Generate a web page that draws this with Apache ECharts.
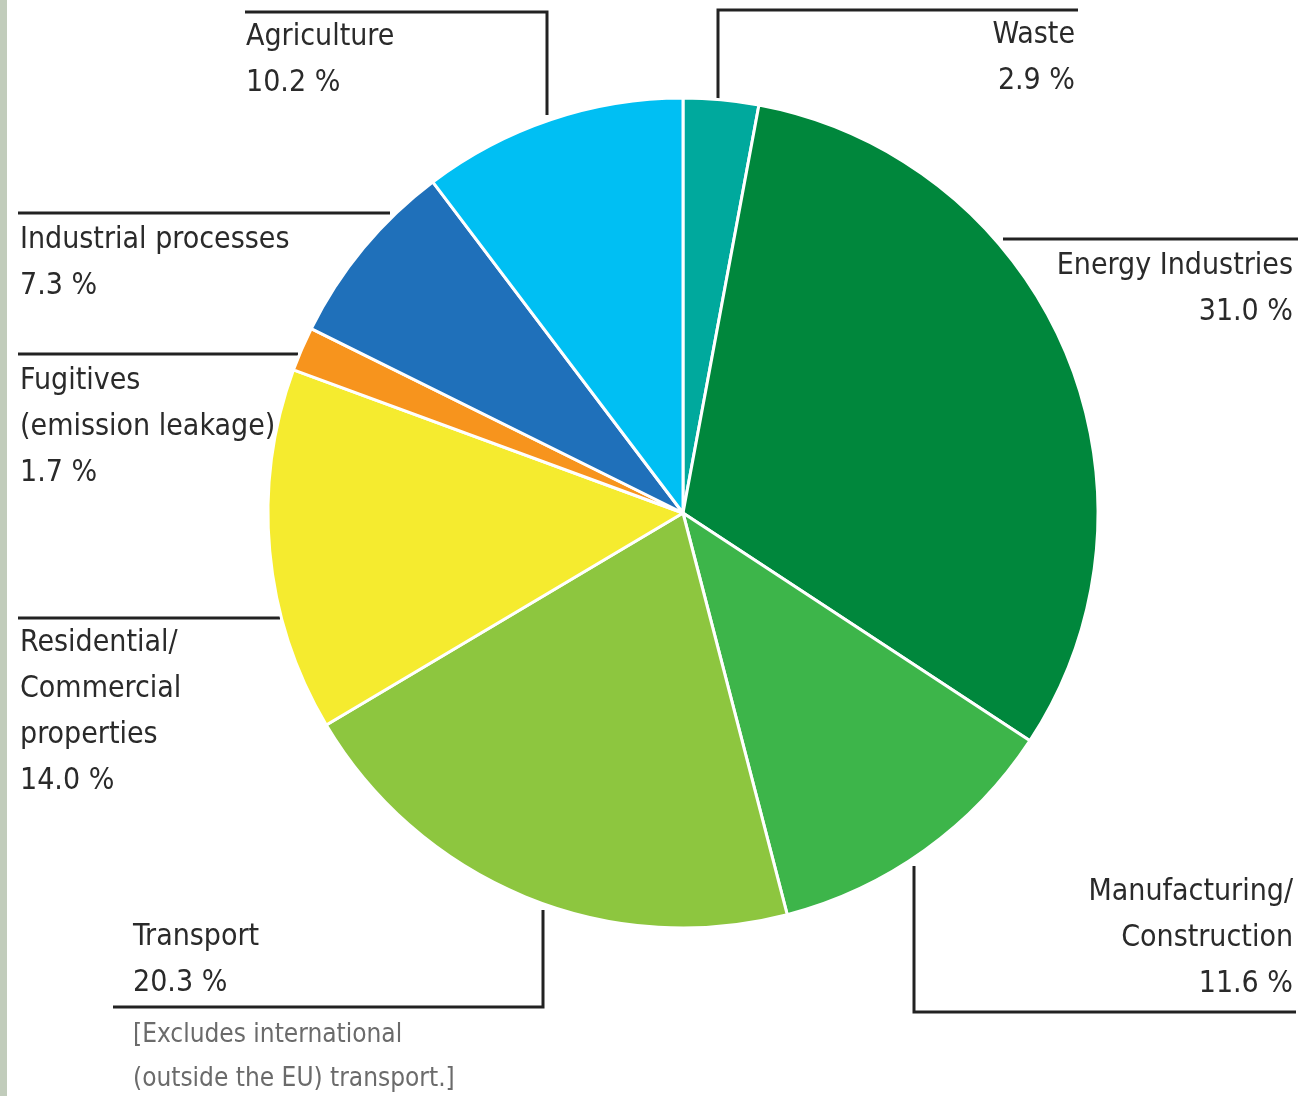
<!DOCTYPE html>
<html>
<head>
<meta charset="utf-8">
<script src="https://cdn.jsdelivr.net/npm/echarts@6/dist/echarts.min.js"></script>
<style>
  html, body { margin: 0; padding: 0; background: #ffffff; }
  #wrap { position: relative; width: 1300px; height: 1096px; }
  #strip { position: absolute; left: 0; top: 0; width: 7px; height: 1096px; background: #c1ccbb; z-index: 2; }
  #chart { position: absolute; left: 0; top: 0; width: 1300px; height: 1096px; }
</style>
</head>
<body>
<div id="wrap"><div id="strip"></div><div id="chart"></div></div>
<script>
// ---- data ----
const categories = [
  'Waste',
  'Energy Industries',
  'Manufacturing/\nConstruction',
  'Transport',
  'Residential/\nCommercial\nproperties',
  'Fugitives\n(emission leakage)',
  'Industrial processes',
  'Agriculture'
];
const shares = [2.9, 31.0, 11.6, 20.3, 14.0, 1.7, 7.3, 10.2];
const transportNote = '[Excludes international\n(outside the EU) transport.]';

// ---- styling / layout ----
const colors = ['#00A99D', '#00873C', '#3DB54A', '#8DC63F', '#F5EB2F', '#F7941D', '#1F70BA', '#00BFF3'];
const FONT = '"Liberation Sans Narrow", "DejaVu Sans Condensed", "Roboto Condensed", sans-serif';
// label anchor (x, top y, align) and leader line points, in pixels
const labelPos = [
  { x: 1075, y: 12,  align: 'right', line: [[718, 100], [718, 10], [1078, 10]] },
  { x: 1293, y: 243, align: 'right', line: [[1003, 239], [1150, 239], [1298, 239]] },
  { x: 1293, y: 869, align: 'right', line: [[914, 866], [914, 1012], [1296, 1012]] },
  { x: 133,  y: 914, align: 'left',  line: [[543, 910], [543, 1007], [113, 1007]] },
  { x: 20,   y: 620, align: 'left',  line: [[280, 618], [150, 618], [18, 618]] },
  { x: 20,   y: 358, align: 'left',  line: [[298, 354], [150, 354], [18, 354]] },
  { x: 20,   y: 217, align: 'left',  line: [[390, 213], [200, 213], [18, 213]] },
  { x: 246,  y: 14,  align: 'left',  line: [[547, 115], [547, 12], [245, 12]] }
];

const chart = echarts.init(document.getElementById('chart'), null, { renderer: 'canvas' });
chart.setOption({
  animation: false,
  backgroundColor: '#ffffff',
  title: {
    text: transportNote,
    left: 128,
    top: 1008,
    textStyle: { fontFamily: FONT, fontSize: 26, fontWeight: 'normal', color: '#6b6b6b', lineHeight: 44 }
  },
  series: [{
    type: 'pie',
    center: [683, 513],
    radius: 415,
    startAngle: 90,
    clockwise: true,
    avoidLabelOverlap: false,
    data: categories.map((c, i) => ({ name: c, value: shares[i], itemStyle: { color: colors[i] } })),
    itemStyle: { borderColor: '#ffffff', borderWidth: 3 },
    label: {
      show: true,
      position: 'outside',
      fontFamily: FONT,
      fontSize: 30,
      lineHeight: 46,
      color: '#2a2a2a',
      formatter: p => p.name + '\n' + p.value.toFixed(1) + ' %'
    },
    labelLine: { show: true, lineStyle: { color: '#222222', width: 3 } },
    labelLayout: params => {
      const L = labelPos[params.dataIndex];
      return {
        x: L.x, y: L.y, align: L.align, verticalAlign: 'top',
        labelLinePoints: L.line
      };
    }
  }]
});
</script>
</body>
</html>
